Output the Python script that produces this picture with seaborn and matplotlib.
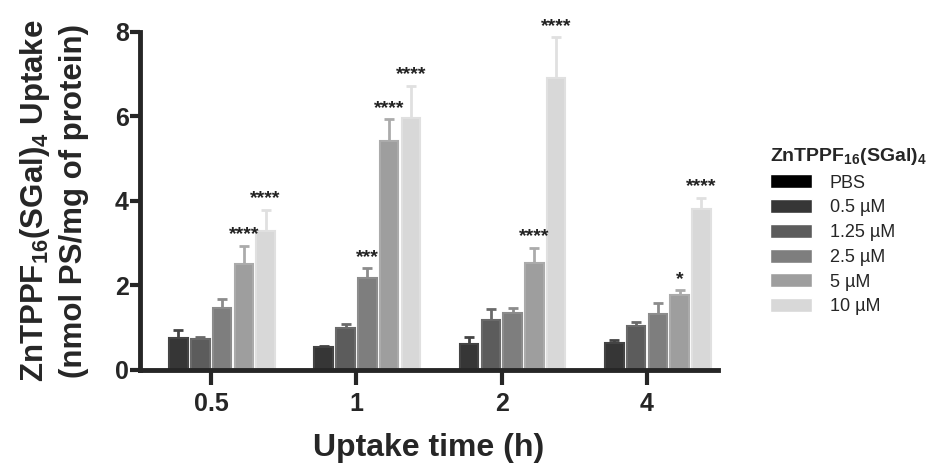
import pandas as pd
import matplotlib
matplotlib.use("Agg")
import matplotlib.pyplot as plt
import seaborn as sns

# -----------------------------
# Data
# -----------------------------
times = ["0.5", "1", "2", "4"]
doses = ["PBS", "0.5 µM", "1.25 µM", "2.5 µM", "5 µM", "10 µM"]

# uptake per dose, one value per time point
uptake = {
    "PBS":     [0.00, 0.00, 0.00, 0.00],
    "0.5 µM":  [0.75, 0.54, 0.61, 0.63],
    "1.25 µM": [0.73, 0.99, 1.18, 1.03],
    "2.5 µM":  [1.46, 2.17, 1.34, 1.32],
    "5 µM":    [2.52, 5.42, 2.54, 1.78],
    "10 µM":   [3.30, 5.96, 6.90, 3.80],
}
# upper error (SD)
err = {
    "PBS":     [0.00, 0.00, 0.00, 0.00],
    "0.5 µM":  [0.20, 0.02, 0.16, 0.08],
    "1.25 µM": [0.06, 0.09, 0.26, 0.11],
    "2.5 µM":  [0.22, 0.24, 0.12, 0.26],
    "5 µM":    [0.42, 0.51, 0.35, 0.11],
    "10 µM":   [0.49, 0.76, 0.97, 0.28],
}
stars = {
    "PBS":     ["", "", "", ""],
    "0.5 µM":  ["", "", "", ""],
    "1.25 µM": ["", "", "", ""],
    "2.5 µM":  ["", "***", "", ""],
    "5 µM":    ["****", "****", "****", "*"],
    "10 µM":   ["****", "****", "****", "****"],
}

colors = ["#000000", "#363636", "#5c5c5c", "#7e7e7e", "#9e9e9e", "#d8d8d8"]
edge_colors = ["#000000", "#444444", "#6a6a6a", "#8c8c8c", "#ababab", "#e0e0e0"]

rows = []
for d in doses:
    for t, v in zip(times, uptake[d]):
        rows.append({"time": t, "dose": d, "uptake": v})
df = pd.DataFrame(rows)

# -----------------------------
# Style
# -----------------------------
sns.set_style("ticks")
plt.rcParams["font.family"] = ["Liberation Sans", "DejaVu Sans"]
plt.rcParams["mathtext.fontset"] = "custom"
plt.rcParams["mathtext.rm"] = "Liberation Sans:bold"
plt.rcParams["mathtext.default"] = "rm"

fig = plt.figure(figsize=(9.29, 4.63), dpi=100)
ax = fig.add_axes([0.1507, 0.2009, 0.773 - 0.1507, 0.931 - 0.2009])

sns.barplot(data=df, x="time", y="uptake", hue="dose", order=times,
            hue_order=doses, palette=colors, width=0.9, gap=0.15,
            errorbar=None, ax=ax)

# bar edges + error bars + significance stars
for cont, d, ec, fc in zip(ax.containers, doses, edge_colors, colors):
    for bar, e, s in zip(cont, err[d], stars[d]):
        bar.set_edgecolor(ec)
        bar.set_linewidth(1.5)
        x = bar.get_x() + bar.get_width() / 2
        y = bar.get_height()
        if e > 0:
            _, caps, _ = ax.errorbar(x, y, yerr=[[0], [e]], fmt="none",
                                     ecolor=ec, elinewidth=2, capsize=3.5,
                                     capthick=2, zorder=1)
            caps[0].set_visible(False)
        if s:
            ax.text(x, y + e + 0.06, s, ha="center", va="bottom",
                    fontsize=14, fontweight="bold", color="#222222")

ax.set_ylim(0, 8)
ax.set_yticks([0, 2, 4, 6, 8])
ax.set_xlim(-0.49, 3.49)
sns.despine(ax=ax)
for sp in ["left", "bottom"]:
    ax.spines[sp].set_linewidth(3.5)
ax.tick_params(axis="y", length=7, width=3, labelsize=18, pad=1)
ax.tick_params(axis="x", length=11, width=3, labelsize=18, pad=5)
for lab in ax.get_xticklabels() + ax.get_yticklabels():
    lab.set_fontweight("bold")

ax.set_xlabel("Uptake time (h)", fontsize=23, fontweight="bold", labelpad=12)
ax.set_ylabel("ZnTPPF$_{16}$(SGal)$_4$ Uptake\n(nmol PS/mg of protein)",
              fontsize=22.5, fontweight="bold", labelpad=19, linespacing=1.3)

handles, labels = ax.get_legend_handles_labels()
ax.legend(handles, labels, title="ZnTPPF$_{16}$(SGal)$_4$",
          loc="upper left", bbox_to_anchor=(0.829, 0.685),
          bbox_transform=fig.transFigure, frameon=False, fontsize=13,
          title_fontproperties={"weight": "bold", "size": 14},
          alignment="left", handlelength=2.3, handleheight=0.8,
          labelspacing=0.42, handletextpad=1.0, borderpad=0, borderaxespad=0)

fig.savefig("out.png", dpi=100)
